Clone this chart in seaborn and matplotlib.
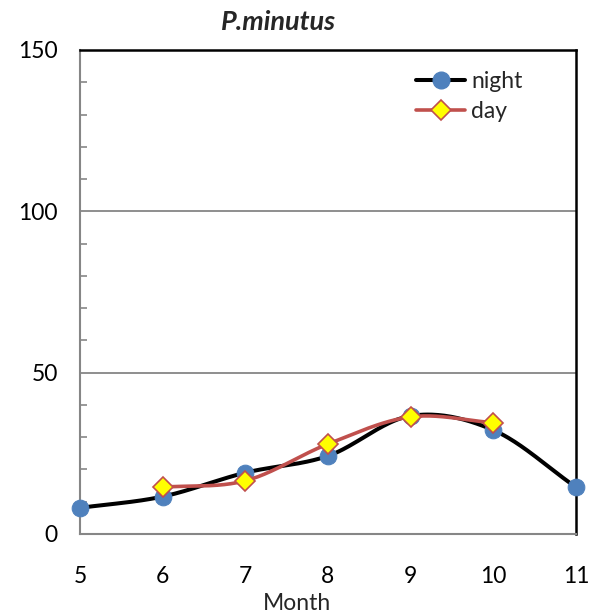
import numpy as np
import matplotlib
matplotlib.use("Agg")
import matplotlib.pyplot as plt
from matplotlib.lines import Line2D
import seaborn as sns

months = [5, 6, 7, 8, 9, 10, 11]
night = [8.1, 11.6, 19.0, 24.2, 36.6, 32.2, 14.5]
day_months = [6, 7, 8, 9, 10]
day = [14.5, 16.5, 27.9, 36.3, 34.5]
y_ticks = [0, 50, 100, 150]
title = "P.minutus"
x_label = "Month"

sns.set_theme(style="white")
plt.rcParams["font.family"] = ["Lato", "DejaVu Sans"]


def smooth(xs, ys, n=40):
    """Catmull-Rom curve through the points, like a spreadsheet's smoothed line."""
    xs = np.asarray(xs, float)
    ys = np.asarray(ys, float)
    px = np.concatenate([[2 * xs[0] - xs[1]], xs, [2 * xs[-1] - xs[-2]]])
    py = np.concatenate([[2 * ys[0] - ys[1]], ys, [2 * ys[-1] - ys[-2]]])
    out_x, out_y = [], []
    for i in range(1, len(px) - 2):
        t = np.linspace(0, 1, n)
        for arr, out in ((px, out_x), (py, out_y)):
            p0, p1, p2, p3 = arr[i - 1], arr[i], arr[i + 1], arr[i + 2]
            m1 = (p2 - p0) / 2
            m2 = (p3 - p1) / 2
            h00 = 2 * t**3 - 3 * t**2 + 1
            h10 = t**3 - 2 * t**2 + t
            h01 = -2 * t**3 + 3 * t**2
            h11 = t**3 - t**2
            out.extend(h00 * p1 + h10 * m1 + h01 * p2 + h11 * m2)
    return np.array(out_x), np.array(out_y)


fig = plt.figure(figsize=(5.98, 6.15), dpi=100)
ax = fig.add_axes([80 / 598, 1 - 534 / 615, 496 / 598, 484 / 615])

blue = "#4F81BD"
red = "#C0504D"

# night series: smoothed black line with blue dots
sx, sy = smooth(months, night)
ax.plot(sx, sy, color="black", lw=2.9, zorder=3, clip_on=False, solid_capstyle="round")
sns.lineplot(x=months, y=night, ax=ax, linestyle="", marker="o", markersize=12,
             color=blue, markeredgecolor=blue, zorder=4, clip_on=False)

# day series: smoothed red line with yellow diamonds
dx, dy = smooth(day_months, day)
ax.plot(dx, dy, color=red, lw=2.6, zorder=5, clip_on=False, solid_capstyle="round")
sns.lineplot(x=day_months, y=day, ax=ax, linestyle="", marker="D", markersize=10,
             color="#FFFF00", markeredgecolor=red, markeredgewidth=1.2, zorder=6,
             clip_on=False)

ax.set_xlim(5, 11)
ax.set_ylim(0, 150)
ax.set_xticks(months)
ax.set_yticks(y_ticks)
ax.set_yticks(np.arange(0, 151, 10), minor=True)
ax.yaxis.grid(True, which="major", color="#868686", lw=1.3)
ax.xaxis.grid(False)
ax.set_axisbelow(True)

ax.tick_params(axis="x", length=0, pad=23, labelsize=16.5, colors="black")
ax.tick_params(axis="y", which="major", length=0, pad=16, labelsize=16.5, colors="black")
ax.tick_params(axis="y", which="minor", direction="in", length=5, width=1.2,
               color="#868686", left=True)

for side in ("left", "bottom"):
    ax.spines[side].set_color("#868686")
    ax.spines[side].set_linewidth(1.5)
for side in ("top", "right"):
    ax.spines[side].set_color("black")
    ax.spines[side].set_linewidth(1.8)

handles = [
    Line2D([], [], color="black", lw=2.9, marker="o", markersize=12,
           markerfacecolor=blue, markeredgecolor=blue),
    Line2D([], [], color=red, lw=2.6, marker="D", markersize=10,
           markerfacecolor="#FFFF00", markeredgecolor=red, markeredgewidth=1.2),
]
ax.legend(handles, ["night", "day"], loc="upper left", bbox_to_anchor=(0.645, 0.99),
          frameon=False, fontsize=16.5, handlelength=2.15, handletextpad=0.25,
          labelspacing=0.4, borderaxespad=0.3)

fig.text(279 / 598, 1 - 22 / 615, title, ha="center", va="center",
         fontsize=19.5, fontweight="bold", fontstyle="italic")
fig.text(297 / 598, 1 - 603 / 615, x_label, ha="center", va="center", fontsize=16.5)

fig.savefig("out.png", dpi=100)
